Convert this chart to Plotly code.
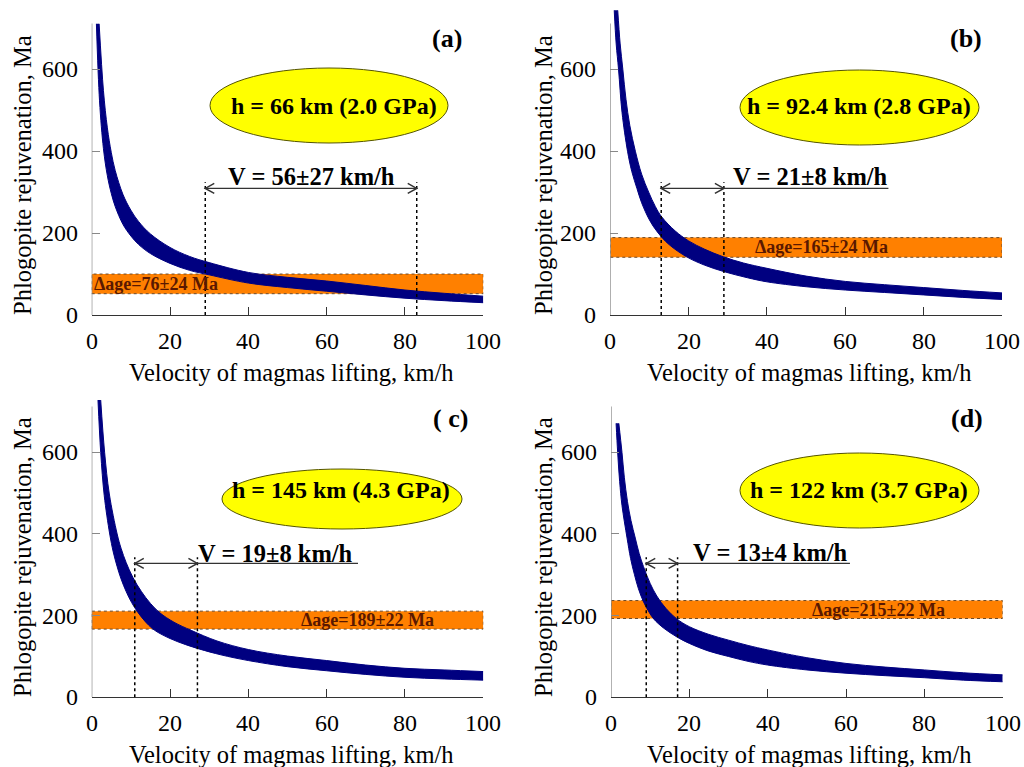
import plotly.graph_objects as go

W, H = 1024, 767
FONT = "'Times New Roman', 'Liberation Serif', 'DejaVu Serif', serif"

# ---- data -------------------------------------------------------------
panel_tags = ["(a)", "(b)", "( c)", "(d)"]
depth_texts = ["h = 66 km (2.0 GPa)", "h = 92.4 km (2.8 GPa)",
               "h = 145 km (4.3 GPa)", "h = 122 km (3.7 GPa)"]
v_mean = [56, 21, 19, 13]        # km/h
v_err = [27, 8, 8, 4]
age_mean = [76, 165, 189, 215]   # Ma
age_err = [24, 24, 22, 22]

# lower / upper edges of the model band (velocity km/h, rejuvenation Ma)
a_low_v = [1.2, 2, 3, 4, 5, 6, 8, 10, 12, 15, 20, 25, 30, 40, 50, 60, 70, 80, 90, 100]
a_low_t = [711, 523, 406, 340, 297, 265, 221, 193, 172, 150, 126, 109, 98, 78, 67, 58, 49, 41, 35, 30]
a_up_v = [1.9, 3, 4, 5, 6, 8, 10, 12, 15, 20, 25, 30, 40, 50, 60, 70, 80, 90, 100]
a_up_t = [711, 548, 457, 397, 353, 294, 256, 228, 198, 165, 143, 128, 104, 92, 83, 72, 61, 53, 46]

b_low_v = [1.0, 1.5, 2.1, 3, 4.4, 5.5, 6.8, 8, 10, 12, 15, 19.5, 24, 29, 35, 40, 50, 60, 70, 80, 90, 100]
b_low_t = [744, 662, 600, 494, 400, 350, 309, 274, 232, 203, 172, 142, 122, 106, 91, 81, 69, 61, 55, 49, 43, 38]
b_up_v = [1.9, 2.5, 3.2, 4, 5, 6.4, 8, 9.8, 11.5, 13.1, 16.6, 20, 24, 28.9, 34, 40, 50, 60, 70, 80, 90, 100]
b_up_t = [744, 664, 600, 527, 462, 400, 344, 300, 265, 240, 205, 181, 161, 142, 127, 114, 95, 82, 74, 67, 60, 54]

c_low_v = [1.6, 2.3, 3.2, 4.6, 5.5, 6.5, 7.5, 8.8, 10.2, 11.8, 14, 16.1, 20, 24, 27.6, 33, 40, 50, 60, 70, 80, 90, 100]
c_low_t = [728, 600, 494, 400, 356, 320, 290, 259, 232, 208, 182, 164, 144, 129, 118, 104, 90, 75, 65, 56, 49, 45, 42]
c_up_v = [2.3, 3.3, 4.5, 6.5, 7.5, 8.8, 10.5, 12.7, 15, 17.4, 21, 25.4, 32, 40, 50, 60, 70, 80, 90, 100]
c_up_t = [728, 600, 498, 400, 365, 330, 294, 259, 230, 207, 184, 164, 138, 117, 101, 90, 79, 71, 67, 63]

d_low_v = [1.3, 1.7, 2.2, 2.8, 4.1, 5, 6, 7, 8.2, 9.5, 10.9, 13.5, 16.8, 20, 25, 30, 35, 40, 50, 60, 70, 80, 90, 100]
d_low_t = [671, 600, 529, 470, 390, 340, 300, 266, 236, 212, 192, 169, 148, 132, 113, 100, 88, 79, 67, 59, 53, 48, 42, 38]
d_up_v = [2.0, 2.8, 3.4, 4.2, 5.1, 6.2, 7.2, 8.3, 10, 11.7, 14, 16.8, 20, 25, 30, 35, 40, 50, 60, 70, 80, 90, 100]
d_up_t = [671, 600, 539, 480, 433, 390, 352, 320, 279, 248, 218, 192, 173, 154, 140, 127, 116, 97, 83, 74, 67, 60, 55]

x_ticks = [0, 20, 40, 60, 80, 100]
y_ticks = [0, 200, 400, 600]

bands = [(a_low_v, a_low_t, a_up_v, a_up_t),
         (b_low_v, b_low_t, b_up_v, b_up_t),
         (c_low_v, c_low_t, c_up_v, c_up_t),
         (d_low_v, d_low_t, d_up_v, d_up_t)]

# ---- layout geometry (pixels) ----------------------------------------
x_px = [(91.7, 483.3), (610.3, 1002.0), (91.7, 483.3), (611.0, 1002.7)]
y0_px = [315.0, 315.0, 697.3, 697.3]
ppu = [0.4095, 0.4095, 0.4083, 0.4083]
Y_MAX = 750
AXIS_TOP = 712

arrow_y = [309, 309, 328, 328]
underline_end = [None, 71, 68, 61]
v_text_pos = [(56, 338), (51, 338), (47, 353), (40.7, 355)]
age_text_pos = [(0.0, 76, "left"), (53.8, 165, "center"),
                (70.4, 189, "center"), (68.3, 215, "center")]
ellipse_px = [(210, 68, 448, 143), (740, 70, 979, 145),
              (222, 469, 462, 529), (740, 453, 979, 528)]
ellipse_text_px = [(334, 106), (859, 106), (341, 490), (859, 490)]
tag_px = [(447, 38), (966, 38), (450, 418), (967, 418)]
xtitle_px = [(291, 373), (809, 373), (291, 754), (809, 754)]
ytitle_px = [(22, 175), (543, 175), (22, 557), (543, 557)]

NAVY = "#000080"
ORANGE = "#FF8000"
TICK_FONT = dict(family=FONT, size=24, color="black")

fig = go.Figure()
layout_axes = {}
shapes = []
annotations = []


def px2paper(px, py):
    return px / W, 1 - py / H


for i in range(4):
    n = "" if i == 0 else str(i + 1)
    xa, ya = "x" + n, "y" + n
    lv, lt, uv, ut = bands[i]

    fig.add_trace(go.Scatter(x=lv, y=lt, xaxis=xa, yaxis=ya, mode="lines",
                             line=dict(color=NAVY, width=1, shape="spline", smoothing=1.0),
                             showlegend=False, hoverinfo="skip"))
    fig.add_trace(go.Scatter(x=uv, y=ut, xaxis=xa, yaxis=ya, mode="lines",
                             line=dict(color=NAVY, width=1, shape="spline", smoothing=1.0),
                             fill="tonexty", fillcolor=NAVY,
                             showlegend=False, hoverinfo="skip"))

    x0p, x1p = x_px[i]
    ybot = y0_px[i]
    ytop = ybot - Y_MAX * ppu[i]
    layout_axes["xaxis" + n] = dict(
        domain=[x0p / W, x1p / W], range=[0, 100], anchor=ya,
        tickvals=x_ticks, ticks="inside", ticklen=8, tickwidth=1.2, tickcolor="#333",
        showline=True, linecolor="#333", linewidth=1.3, showticklabels=False,
        showgrid=False, zeroline=False)
    layout_axes["yaxis" + n] = dict(
        domain=[1 - ybot / H, 1 - ytop / H], range=[0, Y_MAX], anchor=xa,
        tickvals=y_ticks, ticks="inside", ticklen=8, tickwidth=1.2, tickcolor="#888",
        showline=False, showgrid=False, zeroline=False, showticklabels=False)

    # tick labels
    for tv in x_ticks:
        annotations.append(dict(xref=xa, yref=ya, x=tv, y=0, yshift=-26,
                                text=str(tv), showarrow=False,
                                xanchor="center", yanchor="middle", font=TICK_FONT))
    for tv in y_ticks:
        annotations.append(dict(xref=xa, yref=ya, x=0, y=tv, xshift=-12,
                                text=str(tv), showarrow=False,
                                xanchor="right", yanchor="middle", font=TICK_FONT))

    # vertical axis line up to the top of the scale
    shapes.append(dict(type="line", xref=xa, yref=ya, x0=0, x1=0, y0=0, y1=AXIS_TOP,
                       line=dict(color="#888", width=1.3), layer="above"))

    # age band
    lo, hi = age_mean[i] - age_err[i], age_mean[i] + age_err[i]
    shapes.append(dict(type="rect", xref=xa, yref=ya, x0=0, x1=100, y0=lo, y1=hi,
                       fillcolor=ORANGE, line=dict(color="#6b4a2a", width=1, dash="dot"),
                       layer="below"))

    # velocity range: dotted guides and double arrow
    vlo, vhi = v_mean[i] - v_err[i], v_mean[i] + v_err[i]
    for vv in (vlo, vhi):
        shapes.append(dict(type="line", xref=xa, yref=ya, x0=vv, x1=vv, y0=0,
                           y1=arrow_y[i] + 15, line=dict(color="black", width=1.5, dash="dot"),
                           layer="above"))
    xend = underline_end[i] if underline_end[i] is not None else vhi
    shapes.append(dict(type="line", xref=xa, yref=ya, x0=vlo, x1=xend,
                       y0=arrow_y[i], y1=arrow_y[i],
                       line=dict(color="#333", width=1.3), layer="above"))
    shapes.append(dict(type="path", xref=xa, yref=ya, xsizemode="pixel", ysizemode="pixel",
                       xanchor=vlo, yanchor=arrow_y[i], path="M 9,5 L 0,0 L 9,-5",
                       line=dict(color="#333", width=1.5), layer="above"))
    shapes.append(dict(type="path", xref=xa, yref=ya, xsizemode="pixel", ysizemode="pixel",
                       xanchor=vhi, yanchor=arrow_y[i], path="M -9,5 L 0,0 L -9,-5",
                       line=dict(color="#333", width=1.5), layer="above"))

    # depth ellipse
    ex0, ey0, ex1, ey1 = ellipse_px[i]
    px0, py1 = px2paper(ex0, ey0)
    px1, py0 = px2paper(ex1, ey1)
    shapes.append(dict(type="circle", xref="paper", yref="paper", x0=px0, x1=px1,
                       y0=py0, y1=py1, fillcolor="#FFFF00",
                       line=dict(color="#555500", width=1), layer="above"))

    tx, ty = px2paper(*ellipse_text_px[i])
    annotations.append(dict(xref="paper", yref="paper", x=tx, y=ty, text="<b>%s</b>" % depth_texts[i],
                            showarrow=False, xanchor="center", yanchor="middle",
                            font=dict(family=FONT, size=24, color="black")))
    tx, ty = px2paper(*tag_px[i])
    annotations.append(dict(xref="paper", yref="paper", x=tx, y=ty, text="<b>%s</b>" % panel_tags[i],
                            showarrow=False, xanchor="center", yanchor="middle",
                            font=dict(family=FONT, size=26, color="black")))
    vx, vy = v_text_pos[i]
    annotations.append(dict(xref=xa, yref=ya, x=vx, y=vy,
                            text="<b>V = %d\u00b1%d km/h</b>" % (v_mean[i], v_err[i]),
                            showarrow=False, xanchor="center", yanchor="middle",
                            font=dict(family=FONT, size=24.5, color="black")))
    ax_, ay_, anc = age_text_pos[i]
    annotations.append(dict(xref=xa, yref=ya, x=ax_, y=ay_,
                            text="<b>\u0394age=%d\u00b1%d Ma</b>" % (age_mean[i], age_err[i]),
                            showarrow=False, xanchor=anc, yanchor="middle",
                            font=dict(family=FONT, size=18, color="#5a1800")))
    tx, ty = px2paper(*xtitle_px[i])
    annotations.append(dict(xref="paper", yref="paper", x=tx, y=ty,
                            text="Velocity of magmas lifting, km/h",
                            showarrow=False, xanchor="center", yanchor="middle",
                            font=dict(family=FONT, size=24.5, color="black")))
    tx, ty = px2paper(*ytitle_px[i])
    annotations.append(dict(xref="paper", yref="paper", x=tx, y=ty,
                            text="Phlogopite rejuvenation, Ma", textangle=-90,
                            showarrow=False, xanchor="center", yanchor="middle",
                            font=dict(family=FONT, size=24.5, color="black")))

fig.update_layout(width=W, height=H, margin=dict(l=0, r=0, t=0, b=0),
                  paper_bgcolor="white", plot_bgcolor="white",
                  font=dict(family=FONT),
                  shapes=shapes, annotations=annotations, **layout_axes)

fig.write_html("out.html")
